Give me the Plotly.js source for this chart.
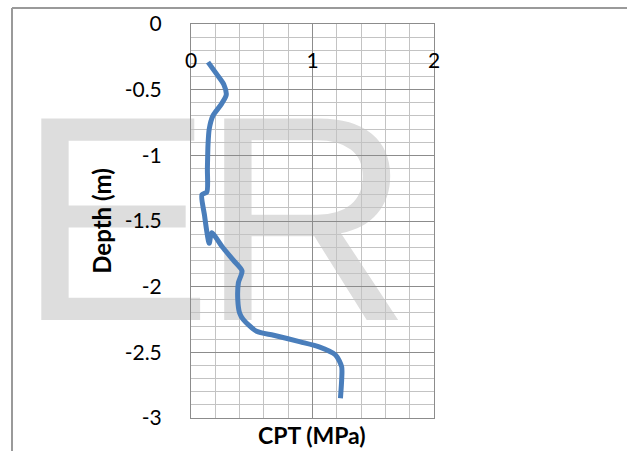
<!DOCTYPE html>
<html>
<head>
<meta charset="utf-8">
<script src="https://cdn.plot.ly/plotly-3.0.1.min.js"></script>
<style>html,body{margin:0;padding:0;background:#fff;}#chart{width:627px;height:451px;}</style>
</head>
<body>
<div id="chart"></div>
<script>
// CPT profile
var cptMPa = [0.14,0.21,0.27,0.29,0.25,0.18,0.15,0.14,0.135,0.13,0.09,0.11,0.15,0.17,0.26,0.35,0.42,0.39,0.385,0.40,0.43,0.54,0.68,0.90,1.06,1.19,1.24,1.24,1.23];
var depthM = [-0.29,-0.38,-0.46,-0.54,-0.61,-0.70,-0.80,-0.92,-1.10,-1.28,-1.30,-1.45,-1.67,-1.59,-1.70,-1.80,-1.88,-1.97,-2.10,-2.20,-2.25,-2.34,-2.37,-2.42,-2.46,-2.52,-2.61,-2.71,-2.85];

var xTickVals = [0, 1, 2];
var xTickText = ["0", "1", "2"];
var yTickVals = [0, -0.5, -1, -1.5, -2, -2.5, -3];
var yTickText = ["0", "-0.5", "-1", "-1.5", "-2", "-2.5", "-3"];
var xTitle = "CPT (MPa)";
var yTitle = "Depth (m)";

var W = 627, H = 451, L = 191, R = 434, T = 24, B = 418;
function px(x){ return (x - L) / (R - L); }
function py(y){ return (B - y) / (B - T); }

var FONT = "Lato, 'Open Sans', sans-serif";

var trace = {
  x: cptMPa, y: depthM, type: 'scatter', mode: 'lines',
  line: {color: '#4A7EBB', width: 5, shape: 'spline', smoothing: 0.7},
  hoverinfo: 'skip', showlegend: false
};

var layout = {
  width: W, height: H,
  margin: {l: L, r: W - R, t: T, b: H - B, pad: 0},
  paper_bgcolor: '#ffffff',
  plot_bgcolor: 'rgba(0,0,0,0)',
  showlegend: false,
  font: {family: FONT, color: '#000000'},
  xaxis: {
    range: [0, 2], side: 'top',
    tickvals: xTickVals, ticktext: xTickText, ticks: '',
    tickfont: {size: 21, family: FONT, color: '#000'},
    ticklabelstandoff: -53,
    showgrid: true, gridcolor: '#8c8c8c', gridwidth: 1,
    minor: {dtick: 0.2, showgrid: true, gridcolor: '#c3c3c3', gridwidth: 1},
    zeroline: false,
    showline: true, mirror: true, linecolor: '#8c8c8c', linewidth: 1,
    automargin: false, fixedrange: true
  },
  yaxis: {
    range: [-3, 0],
    tickvals: yTickVals, ticktext: yTickText, ticks: '',
    tickfont: {size: 21, family: FONT, color: '#000'},
    ticklabelstandoff: 24,
    showgrid: true, gridcolor: '#8c8c8c', gridwidth: 1,
    minor: {dtick: 0.1, showgrid: true, gridcolor: '#c3c3c3', gridwidth: 1},
    zeroline: false,
    showline: true, mirror: true, linecolor: '#8c8c8c', linewidth: 1,
    title: {text: '<b>' + yTitle + '</b>', font: {size: 24, family: FONT, color: '#000'}, standoff: 6},
    automargin: false, fixedrange: true
  },
  annotations: [
    {text: '<b>' + xTitle + '</b>', xref: 'paper', yref: 'paper', x: px(312), y: py(435),
     xanchor: 'center', yanchor: 'middle', showarrow: false, borderpad: 0,
     font: {size: 23, family: FONT, color: '#000'}}
  ],
  shapes: [
    // watermark letters behind the grid
    {type: 'rect', xref: 'paper', yref: 'paper', layer: 'below',
     x0: px(20), x1: px(210), y0: py(293), y1: py(88),
     line: {width: 0}, fillcolor: 'rgba(0,0,0,0)',
     label: {text: 'E', textposition: 'middle center', font: {size: 293, family: 'Liberation Sans, Arial, sans-serif', color: '#dddddd'}}},
    {type: 'rect', xref: 'paper', yref: 'paper', layer: 'below',
     x0: px(206), x1: px(406), y0: py(293), y1: py(88),
     line: {width: 0}, fillcolor: 'rgba(0,0,0,0)',
     label: {text: 'R', textposition: 'middle center', font: {size: 293, family: 'Liberation Sans, Arial, sans-serif', color: '#dddddd'}}},
    // outer chart frame (top and left edges)
    {type: 'line', xref: 'paper', yref: 'paper', x0: px(12), x1: px(627), y0: py(8), y1: py(8),
     line: {color: '#9a9a9a', width: 2}},
    {type: 'line', xref: 'paper', yref: 'paper', x0: px(12), x1: px(12), y0: py(8), y1: py(451),
     line: {color: '#9a9a9a', width: 2}}
  ]
};

Plotly.newPlot('chart', [trace], layout, {displayModeBar: false, staticPlot: true});
</script>
</body>
</html>
